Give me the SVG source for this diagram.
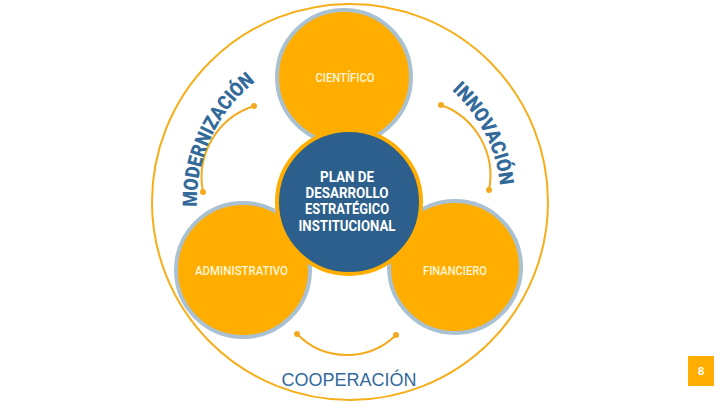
<svg xmlns="http://www.w3.org/2000/svg" width="720" height="405" viewBox="0 0 720 405">
<style>
.ring{fill:none;stroke:#F6AE1A;stroke-width:2}
.petal{fill:#FFAE00;stroke:#AAC1D1;stroke-width:4}
.lbl{font-family:Roboto,"Liberation Sans",sans-serif;font-size:12px;font-weight:500;fill:#FFF6D8;text-anchor:middle}
.ctr{font-family:Roboto,"Liberation Sans",sans-serif;font-size:14px;font-weight:700;fill:#FFFFFF;text-anchor:middle}
.arc{font-family:Roboto,"Liberation Sans",sans-serif;font-size:20px;font-weight:900;fill:#336A9A}
.conn{fill:none;stroke:#F3AA1E;stroke-width:2;marker-start:url(#dot);marker-end:url(#dot)}
</style>
<defs>
<marker id="dot" viewBox="0 0 6 6" refX="3" refY="3" markerWidth="3" markerHeight="3" markerUnits="strokeWidth">
<circle cx="3" cy="3" r="3" fill="#F3AA1E"/>
</marker>
<path id="pMod" d="M206.2,254.3 A153,153 0 0 1 297.7,58.2"/>
<path id="pInn" d="M396.7,58.4 A151,151 0 0 1 493.6,248.7"/>
</defs>
<rect width="720" height="405" fill="#FFFFFF"/>
<circle class="ring" cx="350" cy="202" r="198"/>
<g id="connectors">
<path class="conn" d="M254,106 A75,75 0 0 0 203,192"/>
<path class="conn" d="M441,105 A75,75 0 0 1 489,190"/>
<path class="conn" d="M297,334 A70,70 0 0 0 396,335"/>
</g>
<g id="cientifico">
<circle class="petal" cx="344" cy="77" r="67"/>
<text class="lbl" x="345" y="82" textLength="59" lengthAdjust="spacingAndGlyphs">CIENTÍFICO</text>
</g>
<g id="administrativo">
<circle class="petal" cx="243" cy="270" r="67"/>
<text class="lbl" x="241.5" y="275" textLength="93" lengthAdjust="spacingAndGlyphs">ADMINISTRATIVO</text>
</g>
<g id="financiero">
<circle class="petal" cx="455" cy="267" r="66"/>
<text class="lbl" x="455" y="275" textLength="64" lengthAdjust="spacingAndGlyphs">FINANCIERO</text>
</g>
<g id="plan">
<circle cx="349" cy="202" r="72" fill="#2C5F8C" stroke="#FFAE00" stroke-width="4"/>
<text class="ctr" x="347" y="182" textLength="54" lengthAdjust="spacingAndGlyphs">PLAN DE</text>
<text class="ctr" x="347" y="198" textLength="83" lengthAdjust="spacingAndGlyphs">DESARROLLO</text>
<text class="ctr" x="347" y="214" textLength="84" lengthAdjust="spacingAndGlyphs">ESTRATÉGICO</text>
<text class="ctr" x="347" y="231" textLength="97" lengthAdjust="spacingAndGlyphs">INSTITUCIONAL</text>
</g>
<g id="modernizacion">
<text class="arc"><textPath href="#pMod" startOffset="50%" text-anchor="middle" textLength="143" lengthAdjust="spacingAndGlyphs">MODERNIZACIÓN</textPath></text>
</g>
<g id="innovacion">
<text class="arc"><textPath href="#pInn" startOffset="50%" text-anchor="middle" textLength="109" lengthAdjust="spacingAndGlyphs">INNOVACIÓN</textPath></text>
</g>
<g id="cooperacion">
<text x="349" y="386" font-family="Liberation Sans, Arial, sans-serif" font-size="18" fill="#336A9A" text-anchor="middle">COOPERACIÓN</text>
</g>
<g id="page">
<rect x="688" y="356" width="26" height="30" fill="#FFAE00"/>
<text x="701" y="375" font-family="Liberation Sans, Arial, sans-serif" font-size="11" font-weight="700" fill="#FFFFFF" text-anchor="middle">8</text>
</g>
</svg>
